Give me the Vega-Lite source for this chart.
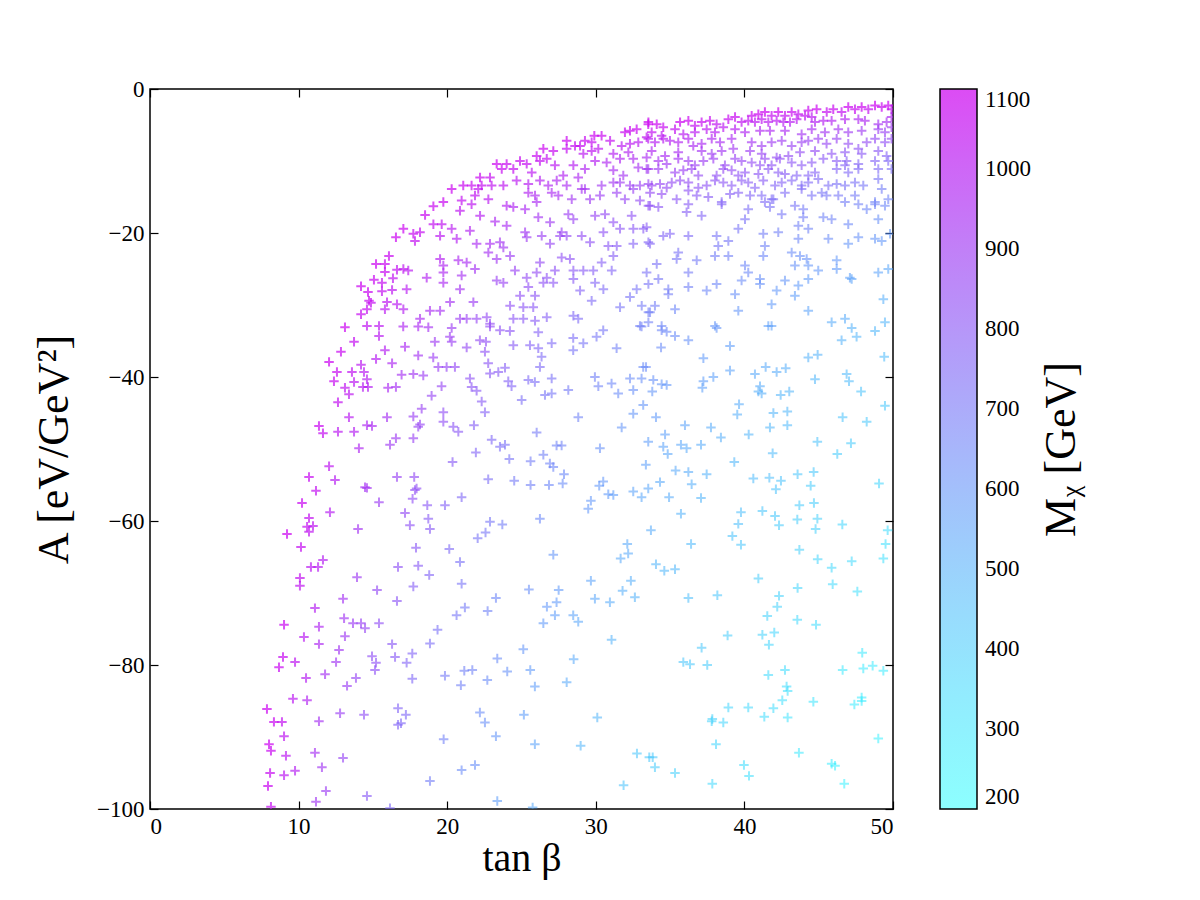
{
"$schema": "https://vega.github.io/schema/vega-lite/v6.json",
"width": 743, "height": 720,
"autosize": {"type": "none"},
"padding": {"left": 150, "top": 89, "right": 307, "bottom": 91},
"background": "white",
"config": {"view": {"stroke": "black", "strokeWidth": 1.5}, "font": "Liberation Serif"},
"resolve": {"axis": {"x": "independent", "y": "independent"}},
"layer": [
{
"data": {"values": [
{"t":16.55,"A":-20.6,"M":1090},{"t":16.08,"A":-23.2,"M":1080},{"t":15.21,"A":-24.3,"M":1090},{"t":15.81,"A":-24.3,"M":1080},{"t":15.81,"A":-25.4,"M":1070},{"t":16.62,"A":-25.1,"M":1050},{"t":15.07,"A":-26.5,"M":1080},{"t":15.61,"A":-26.9,"M":1060},{"t":16.35,"A":-26.3,"M":1040},{"t":14.2,"A":-27.4,"M":1090},{"t":14.67,"A":-28.2,"M":1080},{"t":15.61,"A":-28.1,"M":1050},{"t":16.29,"A":-27.9,"M":1030},{"t":14.74,"A":-29.4,"M":1070},{"t":14.87,"A":-29.7,"M":1060},{"t":15.95,"A":-29.6,"M":1030},{"t":16.62,"A":-29.9,"M":1010},{"t":15.81,"A":-30.6,"M":1020},{"t":14.6,"A":-30.6,"M":1060},{"t":14.2,"A":-31.3,"M":1070},{"t":13.12,"A":-33.1,"M":1090},{"t":14.6,"A":-32.9,"M":1040},{"t":15.41,"A":-32.9,"M":1020},
{"t":15.41,"A":-34.3,"M":1010},{"t":13.73,"A":-35.1,"M":1060},{"t":12.85,"A":-36.5,"M":1080},{"t":15.81,"A":-36.3,"M":990},{"t":15.21,"A":-37.5,"M":1000},{"t":12.05,"A":-37.9,"M":1090},{"t":14.2,"A":-38.3,"M":1020},{"t":16.29,"A":-38.1,"M":960},{"t":12.58,"A":-39.3,"M":1070},{"t":13.59,"A":-39.3,"M":1040},{"t":14.4,"A":-39.3,"M":1010},{"t":12.38,"A":-40.6,"M":1070},{"t":13.73,"A":-40.7,"M":1020},{"t":14.6,"A":-40.3,"M":1000},{"t":14.33,"A":-41.4,"M":1000},{"t":14.67,"A":-41.4,"M":990},{"t":13.12,"A":-41.5,"M":1040},{"t":13.39,"A":-42.4,"M":1030},{"t":16.02,"A":-41.5,"M":950},{"t":16.55,"A":-41.4,"M":930},{"t":12.65,"A":-43.5,"M":1050},{"t":13.39,"A":-45.6,"M":1010},{"t":15.95,"A":-45.6,"M":930},{"t":11.37,"A":-46.8,"M":1080},{"t":11.64,"A":-47.8,"M":1060},{"t":12.65,"A":-47.6,"M":1020},{"t":13.73,"A":-47.6,"M":990},{"t":14.6,"A":-46.7,"M":960},{"t":14.94,"A":-46.8,"M":950},{"t":16.15,"A":-49.4,"M":900},{"t":16.55,"A":-48.5,"M":900},{"t":14.06,"A":-49.9,"M":970},{"t":12.05,"A":-52.4,"M":1030},{"t":10.7,"A":-53.9,"M":1070},{"t":12.45,"A":-54.3,"M":1000},{"t":11.17,"A":-55.8,"M":1050},{"t":14.47,"A":-55.3,"M":930},{"t":14.6,"A":-55.4,"M":920},{"t":10.23,"A":-57.5,"M":1080},{"t":15.41,"A":-57.4,"M":890},{"t":16.62,"A":-53.9,"M":870},{"t":12.11,"A":-58.8,"M":1000},{"t":10.7,"A":-59.6,"M":1050},{"t":10.57,"A":-60.8,"M":1050},{"t":10.97,"A":-60.7,"M":1030},{"t":10.7,"A":-61.5,"M":1040},{"t":9.22,"A":-61.8,"M":1090},{"t":14.0,"A":-61.1,"M":920},{"t":10.16,"A":-63.6,"M":1060},{"t":11.64,"A":-65.4,"M":990},{"t":10.83,"A":-66.4,"M":1020},{"t":11.31,"A":-66.4,"M":1000},{"t":16.69,"A":-66.4,"M":820},
{"t":10.09,"A":-67.9,"M":1050},{"t":10.09,"A":-69.0,"M":1040},{"t":13.93,"A":-67.8,"M":900},{"t":15.28,"A":-69.6,"M":850},{"t":12.99,"A":-70.8,"M":920},{"t":16.62,"A":-71.1,"M":810},{"t":11.1,"A":-72.1,"M":990},{"t":9.02,"A":-74.4,"M":1080},{"t":13.06,"A":-73.5,"M":910},{"t":13.66,"A":-74.2,"M":890},{"t":14.2,"A":-74.2,"M":870},{"t":14.47,"A":-74.9,"M":860},{"t":15.41,"A":-74.2,"M":830},{"t":11.37,"A":-74.7,"M":970},{"t":10.36,"A":-76.1,"M":1010},{"t":13.12,"A":-76.0,"M":900},{"t":11.37,"A":-77.1,"M":960},{"t":16.29,"A":-77.1,"M":800},{"t":12.72,"A":-77.9,"M":910},{"t":8.95,"A":-78.9,"M":1070},{"t":8.68,"A":-80.3,"M":1080},{"t":9.76,"A":-79.6,"M":1030},{"t":14.94,"A":-78.8,"M":830},{"t":15.21,"A":-79.7,"M":820},{"t":15.14,"A":-80.7,"M":820},{"t":16.49,"A":-78.9,"M":790},{"t":12.52,"A":-79.6,"M":910},{"t":10.5,"A":-81.8,"M":990},{"t":11.78,"A":-81.3,"M":930},{"t":13.86,"A":-81.8,"M":860},{"t":13.26,"A":-82.9,"M":880},{"t":9.62,"A":-84.7,"M":1020},{"t":10.57,"A":-84.9,"M":980},{"t":7.87,"A":-86.1,"M":1090},{"t":8.34,"A":-87.9,"M":1080},{"t":8.88,"A":-87.9,"M":1050},{"t":11.37,"A":-87.8,"M":930},{"t":12.79,"A":-86.7,"M":880},{"t":14.4,"A":-86.9,"M":830},{"t":16.69,"A":-86.0,"M":760},{"t":16.69,"A":-88.3,"M":760},{"t":9.02,"A":-89.9,"M":1030},{"t":8.01,"A":-91.0,"M":1090},{"t":8.14,"A":-91.9,"M":1080},{"t":9.15,"A":-92.6,"M":1020},{"t":11.1,"A":-92.2,"M":930},{"t":12.99,"A":-92.9,"M":860},{"t":8.08,"A":-95.0,"M":1070},{"t":9.02,"A":-95.3,"M":1020},{"t":9.76,"A":-94.7,"M":990},{"t":11.57,"A":-94.2,"M":910},{"t":7.94,"A":-96.8,"M":1080},{"t":11.84,"A":-97.5,"M":890},{"t":14.6,"A":-98.2,"M":790},{"t":8.14,"A":-99.7,"M":1060},{"t":11.17,"A":-99.0,"M":910},{"t":16.15,"A":-99.9,"M":740},
{"t":32.3,"A":-5.8,"M":1080},{"t":32.75,"A":-5.6,"M":1080},{"t":31.96,"A":-6.0,"M":1080},{"t":33.42,"A":-6.7,"M":1030},{"t":33.54,"A":-4.6,"M":1090},{"t":29.9,"A":-6.5,"M":1090},{"t":30.39,"A":-6.5,"M":1080},{"t":30.96,"A":-7.2,"M":1050},{"t":29.72,"A":-7.4,"M":1060},{"t":29.27,"A":-7.2,"M":1070},{"t":28.04,"A":-7.2,"M":1090},{"t":28.6,"A":-7.9,"M":1060},{"t":28.94,"A":-7.9,"M":1060},{"t":31.74,"A":-7.9,"M":1020},{"t":32.3,"A":-7.6,"M":1020},{"t":32.86,"A":-7.4,"M":1010},{"t":26.47,"A":-8.3,"M":1090},{"t":27.14,"A":-8.6,"M":1070},{"t":26.02,"A":-9.3,"M":1070},{"t":28.04,"A":-8.3,"M":1060},{"t":29.16,"A":-9.0,"M":1020},{"t":29.72,"A":-8.6,"M":1030},{"t":30.17,"A":-8.3,"M":1030},{"t":31.18,"A":-9.0,"M":990},{"t":31.63,"A":-9.7,"M":970},{"t":32.19,"A":-8.8,"M":980},{"t":32.52,"A":-9.7,"M":960},{"t":33.42,"A":-9.5,"M":950},{"t":23.33,"A":-10.4,"M":1090},{"t":24.0,"A":-10.4,"M":1080},{"t":23.67,"A":-11.1,"M":1070},{"t":24.45,"A":-11.1,"M":1060},{"t":24.9,"A":-10.0,"M":1070},{"t":25.35,"A":-10.4,"M":1060},{"t":25.69,"A":-11.6,"M":1020},{"t":26.24,"A":-10.0,"M":1050},{"t":26.7,"A":-9.7,"M":1050},{"t":27.25,"A":-10.6,"M":1020},{"t":28.49,"A":-10.6,"M":1000},{"t":29.27,"A":-11.1,"M":970},{"t":29.95,"A":-10.0,"M":990},{"t":30.73,"A":-10.2,"M":970},{"t":31.18,"A":-11.3,"M":940},{"t":31.85,"A":-12.0,"M":920},{"t":32.86,"A":-10.9,"M":930},{"t":33.42,"A":-11.1,"M":910},{"t":27.81,"A":-12.0,"M":980},{"t":22.21,"A":-12.3,"M":1080},{"t":22.88,"A":-12.3,"M":1060},{"t":22.32,"A":-13.4,"M":1060},{"t":22.99,"A":-13.4,"M":1040},{"t":23.78,"A":-13.4,"M":1030},{"t":24.67,"A":-12.7,"M":1020},{"t":25.46,"A":-13.2,"M":1000},{"t":26.24,"A":-12.7,"M":990},{"t":26.8,"A":-13.4,"M":970},{"t":27.37,"A":-12.7,"M":970},{"t":28.04,"A":-13.4,"M":950},{"t":28.82,"A":-12.3,"M":960},{"t":29.27,"A":-13.9,"M":920},{"t":30.39,"A":-13.4,"M":910},{"t":31.18,"A":-13.0,"M":910},{"t":31.63,"A":-13.0,"M":900},{"t":32.3,"A":-13.4,"M":890},{"t":32.97,"A":-13.4,"M":880},{"t":33.54,"A":-13.2,"M":870},{"t":20.3,"A":-13.9,"M":1090},{"t":21.08,"A":-13.4,"M":1080},{"t":21.64,"A":-13.4,"M":1070},{"t":22.09,"A":-13.9,"M":1050},{"t":22.77,"A":-15.3,"M":1020},{"t":21.87,"A":-14.8,"M":1040},{"t":20.97,"A":-15.5,"M":1050},{"t":19.74,"A":-15.7,"M":1080},{"t":19.07,"A":-16.3,"M":1080},{"t":20.86,"A":-16.9,"M":1030},{"t":21.64,"A":-16.0,"M":1030},{"t":24.0,"A":-16.2,"M":980},{"t":24.45,"A":-16.4,"M":970},{"t":25.24,"A":-16.7,"M":950},{"t":25.46,"A":-14.4,"M":980},{"t":25.91,"A":-14.8,"M":960},{"t":26.02,"A":-15.7,"M":950},{"t":27.03,"A":-14.4,"M":950},{"t":27.48,"A":-14.8,"M":940},{"t":28.38,"A":-15.3,"M":910},{"t":29.05,"A":-13.9,"M":930},{"t":29.61,"A":-15.3,"M":900},{"t":30.28,"A":-14.8,"M":890},{"t":31.41,"A":-14.4,"M":880},{"t":31.96,"A":-15.3,"M":860},{"t":32.52,"A":-13.9,"M":870},{"t":32.97,"A":-15.5,"M":840},{"t":33.54,"A":-16.2,"M":820},{"t":18.51,"A":-17.5,"M":1080},{"t":19.07,"A":-18.8,"M":1050},{"t":19.63,"A":-18.8,"M":1040},{"t":20.3,"A":-19.4,"M":1010},{"t":21.53,"A":-19.7,"M":980},{"t":22.21,"A":-17.6,"M":1000},{"t":23.22,"A":-18.4,"M":960},{"t":24.0,"A":-19.0,"M":940},{"t":25.24,"A":-19.9,"M":910},{"t":26.13,"A":-17.8,"M":920},{"t":26.92,"A":-18.5,"M":900},{"t":27.7,"A":-19.9,"M":870},{"t":28.15,"A":-17.4,"M":890},{"t":28.49,"A":-18.1,"M":870},{"t":29.95,"A":-17.6,"M":860},{"t":30.62,"A":-17.4,"M":850},{"t":31.18,"A":-18.5,"M":830},{"t":31.63,"A":-19.4,"M":810},{"t":32.41,"A":-17.6,"M":820},{"t":32.52,"A":-19.4,"M":800},{"t":33.2,"A":-19.4,"M":790},{"t":17.05,"A":-19.4,"M":1090},{"t":17.72,"A":-20.1,"M":1070},{"t":18.17,"A":-19.9,"M":1060},{"t":17.83,"A":-21.1,"M":1050},{"t":19.52,"A":-20.4,"M":1020},{"t":20.64,"A":-20.8,"M":990},{"t":21.98,"A":-21.5,"M":950},{"t":22.88,"A":-21.5,"M":940},{"t":23.55,"A":-21.3,"M":920},{"t":23.78,"A":-22.0,"M":910},{"t":25.35,"A":-20.6,"M":900},{"t":26.36,"A":-20.4,"M":880},{"t":26.92,"A":-21.5,"M":860},{"t":28.04,"A":-20.4,"M":850},{"t":27.59,"A":-20.4,"M":860},{"t":29.05,"A":-20.4,"M":840},{"t":29.61,"A":-21.3,"M":820},{"t":30.51,"A":-19.9,"M":820},{"t":30.84,"A":-21.8,"M":800},{"t":31.41,"A":-21.8,"M":790},{"t":32.52,"A":-21.5,"M":770},{"t":33.54,"A":-21.3,"M":760},{"t":17.05,"A":-25.0,"M":1040},{"t":17.38,"A":-25.2,"M":1020},{"t":18.62,"A":-26.2,"M":980},{"t":19.52,"A":-23.6,"M":990},{"t":19.74,"A":-24.5,"M":970},{"t":20.75,"A":-23.8,"M":960},{"t":21.31,"A":-24.1,"M":940},{"t":19.74,"A":-25.5,"M":960},{"t":20.97,"A":-25.9,"M":930},{"t":21.87,"A":-25.0,"M":920},{"t":22.77,"A":-22.7,"M":930},{"t":23.33,"A":-23.6,"M":910},{"t":24.23,"A":-23.2,"M":890},{"t":24.56,"A":-25.2,"M":870},{"t":25.35,"A":-26.2,"M":840},{"t":26.02,"A":-25.5,"M":840},{"t":26.24,"A":-24.1,"M":850},{"t":26.7,"A":-26.2,"M":820},{"t":27.25,"A":-25.2,"M":820},{"t":27.7,"A":-23.4,"M":830},{"t":28.26,"A":-23.6,"M":820},{"t":28.49,"A":-25.2,"M":800},{"t":29.16,"A":-25.2,"M":790},{"t":29.83,"A":-25.2,"M":780},{"t":30.39,"A":-24.1,"M":780},{"t":31.18,"A":-23.2,"M":780},{"t":31.07,"A":-25.2,"M":760},{"t":33.42,"A":-25.5,"M":720},{"t":17.27,"A":-27.8,"M":1010},{"t":19.74,"A":-26.9,"M":950},{"t":20.86,"A":-27.8,"M":920},{"t":21.76,"A":-29.6,"M":890},{"t":23.33,"A":-26.6,"M":880},{"t":23.78,"A":-26.9,"M":870},{"t":24.9,"A":-28.7,"M":830},{"t":25.46,"A":-27.5,"M":830},{"t":25.91,"A":-28.7,"M":810},{"t":26.47,"A":-26.9,"M":820},{"t":27.14,"A":-26.9,"M":810},{"t":28.49,"A":-26.4,"M":790},{"t":28.94,"A":-28.0,"M":770},{"t":29.95,"A":-26.9,"M":760},{"t":30.51,"A":-27.8,"M":740},{"t":29.72,"A":-29.4,"M":740},{"t":32.3,"A":-28.9,"M":710},{"t":32.75,"A":-27.8,"M":710},{"t":33.54,"A":-27.1,"M":710},{"t":17.05,"A":-30.6,"M":990},{"t":18.17,"A":-31.9,"M":950},{"t":18.84,"A":-30.8,"M":940},{"t":19.52,"A":-30.8,"M":930},{"t":20.19,"A":-29.6,"M":920},{"t":20.86,"A":-31.9,"M":890},{"t":21.31,"A":-31.9,"M":880},{"t":21.98,"A":-31.9,"M":860},{"t":22.66,"A":-31.7,"M":850},{"t":22.88,"A":-32.6,"M":840},{"t":24.23,"A":-30.1,"M":830},{"t":25.12,"A":-30.3,"M":810},{"t":25.79,"A":-30.3,"M":800},{"t":24.45,"A":-31.9,"M":810},{"t":25.12,"A":-31.9,"M":800},{"t":25.91,"A":-32.2,"M":790},{"t":26.7,"A":-31.7,"M":780},{"t":28.49,"A":-31.5,"M":750},{"t":28.82,"A":-31.9,"M":740},{"t":31.63,"A":-30.3,"M":710},{"t":33.09,"A":-30.1,"M":690},{"t":33.54,"A":-31.0,"M":680},{"t":33.54,"A":-32.4,"M":670},{"t":32.97,"A":-32.9,"M":670},
{"t":44.3,"A":-3.0,"M":1080},{"t":44.86,"A":-2.8,"M":1090},{"t":45.54,"A":-3.2,"M":1060},{"t":45.98,"A":-2.8,"M":1080},{"t":46.54,"A":-3.2,"M":1050},{"t":46.99,"A":-2.5,"M":1090},{"t":47.44,"A":-2.8,"M":1070},{"t":47.89,"A":-2.5,"M":1090},{"t":48.34,"A":-2.8,"M":1060},{"t":48.79,"A":-2.3,"M":1090},{"t":49.24,"A":-2.5,"M":1080},{"t":49.68,"A":-2.3,"M":1090},{"t":49.9,"A":-2.8,"M":1050},{"t":40.49,"A":-3.7,"M":1080},{"t":40.94,"A":-3.5,"M":1090},{"t":41.38,"A":-3.2,"M":1090},{"t":41.83,"A":-3.7,"M":1060},{"t":42.28,"A":-3.2,"M":1090},{"t":42.73,"A":-3.7,"M":1050},{"t":43.18,"A":-3.2,"M":1080},{"t":43.63,"A":-3.5,"M":1060},{"t":44.08,"A":-3.7,"M":1040},{"t":44.53,"A":-3.9,"M":1020},{"t":38.92,"A":-4.2,"M":1070},{"t":39.37,"A":-3.9,"M":1080},{"t":39.81,"A":-4.6,"M":1040},{"t":40.26,"A":-4.4,"M":1040},{"t":40.71,"A":-4.6,"M":1020},{"t":41.16,"A":-4.2,"M":1040},{"t":41.61,"A":-4.6,"M":1010},{"t":42.17,"A":-4.4,"M":1020},{"t":42.62,"A":-4.6,"M":1000},{"t":43.07,"A":-4.6,"M":1000},{"t":43.52,"A":-4.2,"M":1020},{"t":44.75,"A":-4.6,"M":980},{"t":45.31,"A":-4.4,"M":990},{"t":45.87,"A":-4.4,"M":980},{"t":46.77,"A":-4.2,"M":980},{"t":47.67,"A":-4.2,"M":970},{"t":48.11,"A":-4.4,"M":960},{"t":49.01,"A":-4.9,"M":930},{"t":49.57,"A":-4.6,"M":930},{"t":49.9,"A":-3.9,"M":970},{"t":33.53,"A":-4.9,"M":1090},{"t":34.1,"A":-4.9,"M":1090},{"t":34.54,"A":-5.3,"M":1070},{"t":35.33,"A":-5.6,"M":1050},{"t":35.67,"A":-4.6,"M":1090},{"t":36.23,"A":-4.4,"M":1090},{"t":36.67,"A":-5.1,"M":1050},{"t":37.12,"A":-4.6,"M":1070},{"t":37.68,"A":-4.4,"M":1070},{"t":38.13,"A":-4.9,"M":1040},{"t":38.58,"A":-5.3,"M":1020},{"t":38.02,"A":-6.0,"M":1000},{"t":37.46,"A":-5.6,"M":1020},{"t":36.67,"A":-6.0,"M":1010},{"t":35.89,"A":-6.3,"M":1010},{"t":33.76,"A":-6.0,"M":1050},{"t":34.43,"A":-6.5,"M":1020},{"t":39.37,"A":-5.6,"M":1000},{"t":40.04,"A":-6.0,"M":970},{"t":41.05,"A":-5.8,"M":970},{"t":41.72,"A":-5.8,"M":960},{"t":42.73,"A":-5.8,"M":950},{"t":43.85,"A":-6.3,"M":920},{"t":44.53,"A":-5.6,"M":940},{"t":45.42,"A":-6.0,"M":910},{"t":46.32,"A":-5.6,"M":920},{"t":46.99,"A":-6.0,"M":900},{"t":47.89,"A":-5.8,"M":900},{"t":49.01,"A":-5.6,"M":890},{"t":49.46,"A":-6.0,"M":870},{"t":49.9,"A":-5.3,"M":900},{"t":33.53,"A":-6.9,"M":1020},{"t":33.98,"A":-7.4,"M":1000},{"t":34.54,"A":-6.9,"M":1010},{"t":34.99,"A":-7.2,"M":990},{"t":35.55,"A":-7.4,"M":980},{"t":36.23,"A":-6.9,"M":990},{"t":36.56,"A":-7.9,"M":950},{"t":37.12,"A":-7.6,"M":950},{"t":37.8,"A":-6.9,"M":970},{"t":38.36,"A":-7.4,"M":940},{"t":39.14,"A":-6.9,"M":950},{"t":39.25,"A":-8.3,"M":910},{"t":38.47,"A":-8.6,"M":910},{"t":37.8,"A":-9.0,"M":900},{"t":37.12,"A":-8.6,"M":920},{"t":35.55,"A":-8.8,"M":940},{"t":34.66,"A":-9.3,"M":940},{"t":33.76,"A":-8.6,"M":970},{"t":40.49,"A":-7.4,"M":920},{"t":40.38,"A":-8.6,"M":890},{"t":41.16,"A":-7.9,"M":900},{"t":41.83,"A":-7.4,"M":900},{"t":42.51,"A":-7.2,"M":900},{"t":43.18,"A":-7.9,"M":870},{"t":43.85,"A":-7.4,"M":880},{"t":44.3,"A":-7.2,"M":880},{"t":44.97,"A":-6.9,"M":890},{"t":45.53,"A":-7.6,"M":860},{"t":46.21,"A":-6.9,"M":870},{"t":46.99,"A":-7.6,"M":840},{"t":47.67,"A":-8.3,"M":820},{"t":48.23,"A":-7.4,"M":840},{"t":48.79,"A":-6.9,"M":850},{"t":49.46,"A":-7.4,"M":830},{"t":49.9,"A":-6.9,"M":840},{"t":49.57,"A":-9.3,"M":770},{"t":49.01,"A":-8.6,"M":800},{"t":47.89,"A":-9.0,"M":800},{"t":46.77,"A":-8.8,"M":810},{"t":45.87,"A":-9.0,"M":820},{"t":44.75,"A":-8.6,"M":840},{"t":43.74,"A":-8.8,"M":840},{"t":42.96,"A":-9.3,"M":840},{"t":42.17,"A":-9.5,"M":840},{"t":41.16,"A":-9.0,"M":870},{"t":34.21,"A":-10.0,"M":930},{"t":34.77,"A":-10.4,"M":910},{"t":35.55,"A":-9.7,"M":920},{"t":36.23,"A":-10.0,"M":900},{"t":36.67,"A":-10.6,"M":880},{"t":37.24,"A":-10.0,"M":890},{"t":37.91,"A":-9.7,"M":890},{"t":38.69,"A":-10.6,"M":860},{"t":39.37,"A":-9.7,"M":870},{"t":39.81,"A":-10.0,"M":860},{"t":40.49,"A":-10.2,"M":840},{"t":41.05,"A":-10.6,"M":830},{"t":41.38,"A":-9.7,"M":850},{"t":41.83,"A":-10.6,"M":820},{"t":42.39,"A":-9.7,"M":830},{"t":43.18,"A":-10.2,"M":810},{"t":43.85,"A":-10.6,"M":800},{"t":44.53,"A":-10.2,"M":800},{"t":45.31,"A":-9.7,"M":800},{"t":46.21,"A":-10.0,"M":790},{"t":46.77,"A":-10.6,"M":770},{"t":46.88,"A":-10.0,"M":780},{"t":47.67,"A":-10.4,"M":760},{"t":48.79,"A":-10.0,"M":760},{"t":49.68,"A":-10.0,"M":750},{"t":33.53,"A":-11.1,"M":910},{"t":34.21,"A":-11.1,"M":900},{"t":35.33,"A":-11.6,"M":880},{"t":35.89,"A":-11.3,"M":880},{"t":36.45,"A":-11.1,"M":870},{"t":36.9,"A":-12.0,"M":850},{"t":38.13,"A":-12.0,"M":830},{"t":38.58,"A":-11.1,"M":850},{"t":39.14,"A":-11.3,"M":840},{"t":39.59,"A":-12.0,"M":820},{"t":40.04,"A":-11.6,"M":820},{"t":40.94,"A":-11.8,"M":810},{"t":41.61,"A":-11.1,"M":810},{"t":42.28,"A":-11.6,"M":790},{"t":42.73,"A":-11.8,"M":790},{"t":43.52,"A":-12.0,"M":770},{"t":44.3,"A":-12.0,"M":770},{"t":44.75,"A":-11.6,"M":770},{"t":46.21,"A":-11.1,"M":760},{"t":46.99,"A":-11.6,"M":750},{"t":47.67,"A":-11.1,"M":750},{"t":49.01,"A":-11.1,"M":740},{"t":49.9,"A":-11.1,"M":730},{"t":33.76,"A":-13.4,"M":870},{"t":34.32,"A":-13.2,"M":860},{"t":34.77,"A":-13.7,"M":850},{"t":35.11,"A":-13.0,"M":850},{"t":35.67,"A":-12.7,"M":850},{"t":36.23,"A":-13.0,"M":840},{"t":36.9,"A":-13.7,"M":820},{"t":37.46,"A":-13.4,"M":820},{"t":38.02,"A":-12.7,"M":820},{"t":38.58,"A":-13.0,"M":810},{"t":39.14,"A":-13.4,"M":800},{"t":39.81,"A":-12.7,"M":800},{"t":40.26,"A":-13.0,"M":790},{"t":40.71,"A":-13.7,"M":770},{"t":41.27,"A":-12.7,"M":790},{"t":42.06,"A":-13.4,"M":760},{"t":42.51,"A":-13.0,"M":770},{"t":43.18,"A":-12.7,"M":760},{"t":43.85,"A":-13.4,"M":740},{"t":44.3,"A":-13.0,"M":750},{"t":44.97,"A":-12.5,"M":750},{"t":45.65,"A":-13.4,"M":730},{"t":46.21,"A":-13.2,"M":720},{"t":46.77,"A":-13.4,"M":720},{"t":47.44,"A":-13.0,"M":720},{"t":48.0,"A":-13.4,"M":700},{"t":49.01,"A":-12.5,"M":710},{"t":33.65,"A":-14.4,"M":850},{"t":34.43,"A":-14.6,"M":840},{"t":35.44,"A":-15.3,"M":810},{"t":36.23,"A":-14.1,"M":820},{"t":36.79,"A":-14.8,"M":800},{"t":37.57,"A":-15.0,"M":790},{"t":38.47,"A":-15.7,"M":770},{"t":39.03,"A":-14.6,"M":780},{"t":39.59,"A":-14.4,"M":780},{"t":40.38,"A":-14.8,"M":760},{"t":41.16,"A":-14.8,"M":750},{"t":41.83,"A":-15.3,"M":740},{"t":42.73,"A":-14.4,"M":740},{"t":43.85,"A":-13.9,"M":740},{"t":44.53,"A":-14.8,"M":720},{"t":45.2,"A":-14.4,"M":710},{"t":45.53,"A":-14.8,"M":700},{"t":46.32,"A":-14.8,"M":700},{"t":46.77,"A":-15.7,"M":680},{"t":47.44,"A":-14.8,"M":690},{"t":48.79,"A":-15.7,"M":660},{"t":49.24,"A":-13.9,"M":680},{"t":49.68,"A":-15.3,"M":660},{"t":33.65,"A":-16.2,"M":820},{"t":34.21,"A":-16.4,"M":810},{"t":36.23,"A":-16.0,"M":790},{"t":36.11,"A":-17.1,"M":780},{"t":37.12,"A":-17.6,"M":760},{"t":38.47,"A":-16.0,"M":760},{"t":40.26,"A":-16.7,"M":730},{"t":40.04,"A":-18.1,"M":720},{"t":39.59,"A":-19.4,"M":710},{"t":41.38,"A":-15.7,"M":740},{"t":41.72,"A":-16.4,"M":720},{"t":41.95,"A":-15.3,"M":730},{"t":42.51,"A":-17.4,"M":700},{"t":43.4,"A":-16.2,"M":710},{"t":43.96,"A":-16.7,"M":690},{"t":43.96,"A":-17.8,"M":680},{"t":45.31,"A":-17.8,"M":660},{"t":45.87,"A":-18.1,"M":660},{"t":46.99,"A":-18.8,"M":640},{"t":47.67,"A":-16.0,"M":670},{"t":48.23,"A":-16.7,"M":650},{"t":48.79,"A":-16.0,"M":660},{"t":49.01,"A":-18.1,"M":620},{"t":49.46,"A":-16.2,"M":650},{"t":33.42,"A":-19.2,"M":790},{"t":33.65,"A":-21.5,"M":760},{"t":34.54,"A":-20.4,"M":760},{"t":34.99,"A":-20.1,"M":760},{"t":36.23,"A":-20.4,"M":740},{"t":38.13,"A":-20.4,"M":710},{"t":38.24,"A":-21.8,"M":700},{"t":38.92,"A":-21.1,"M":700},{"t":41.27,"A":-20.1,"M":680},{"t":41.38,"A":-21.8,"M":660},{"t":42.28,"A":-19.9,"M":670},{"t":43.63,"A":-19.0,"M":670},{"t":44.3,"A":-19.4,"M":660},{"t":43.63,"A":-20.8,"M":650},{"t":45.65,"A":-20.8,"M":630},{"t":46.99,"A":-21.5,"M":600},{"t":47.67,"A":-20.6,"M":610},{"t":48.79,"A":-20.8,"M":600},{"t":49.24,"A":-21.1,"M":590},{"t":49.8,"A":-20.1,"M":590},{"t":35.55,"A":-22.7,"M":720},{"t":35.44,"A":-23.6,"M":710},{"t":36.79,"A":-23.8,"M":690},{"t":36.23,"A":-25.5,"M":690},{"t":38.02,"A":-23.2,"M":680},{"t":38.92,"A":-23.2,"M":670},{"t":40.04,"A":-24.5,"M":650},{"t":41.27,"A":-23.2,"M":650},{"t":43.18,"A":-22.7,"M":630},{"t":43.74,"A":-23.2,"M":620},{"t":44.19,"A":-23.6,"M":610},{"t":44.3,"A":-24.5,"M":600},{"t":43.4,"A":-24.5,"M":610},{"t":44.97,"A":-25.2,"M":590},{"t":46.21,"A":-23.8,"M":590},{"t":46.21,"A":-25.0,"M":580},{"t":49.01,"A":-25.5,"M":550},{"t":49.68,"A":-25.0,"M":540},{"t":34.1,"A":-24.3,"M":720},{"t":40.26,"A":-25.5,"M":640},{"t":39.81,"A":-26.6,"M":630},{"t":41.05,"A":-26.4,"M":620},{"t":34.21,"A":-26.4,"M":700},{"t":34.88,"A":-27.8,"M":680},{"t":34.88,"A":-28.5,"M":680},{"t":33.98,"A":-30.1,"M":680},{"t":33.65,"A":-31.0,"M":670},{"t":35.33,"A":-30.6,"M":650},{"t":36.23,"A":-27.5,"M":670},{"t":37.46,"A":-28.0,"M":650},{"t":38.13,"A":-27.1,"M":650},{"t":39.37,"A":-28.5,"M":620},{"t":39.59,"A":-30.8,"M":600},{"t":41.05,"A":-27.1,"M":610},{"t":42.17,"A":-28.0,"M":590},{"t":42.73,"A":-26.6,"M":600},{"t":43.63,"A":-27.3,"M":580},{"t":43.4,"A":-28.7,"M":570},{"t":41.83,"A":-29.9,"M":580},{"t":44.3,"A":-26.4,"M":580},{"t":47.1,"A":-26.2,"M":560},{"t":47.22,"A":-26.4,"M":550},{"t":49.35,"A":-29.2,"M":510},{"t":34.43,"A":-32.9,"M":650},{"t":38.02,"A":-32.9,"M":600},{"t":41.61,"A":-32.9,"M":560},{"t":44.3,"A":-30.8,"M":550},{"t":45.87,"A":-32.4,"M":520},{"t":46.77,"A":-31.9,"M":520},{"t":49.46,"A":-32.4,"M":490},
{"t":17.04,"A":-33.0,"M":970},{"t":18.05,"A":-33.0,"M":950},{"t":18.73,"A":-33.1,"M":930},{"t":20.3,"A":-33.2,"M":890},{"t":22.88,"A":-33.0,"M":840},{"t":23.55,"A":-33.5,"M":820},{"t":24.22,"A":-33.6,"M":810},{"t":26.13,"A":-33.8,"M":770},{"t":30.5,"A":-33.5,"M":700},{"t":33.08,"A":-33.0,"M":670},{"t":17.16,"A":-35.8,"M":950},{"t":18.05,"A":-37.0,"M":920},{"t":19.06,"A":-37.3,"M":890},{"t":19.17,"A":-35.1,"M":900},{"t":20.18,"A":-34.4,"M":890},{"t":20.3,"A":-35.1,"M":880},{"t":21.31,"A":-35.9,"M":850},{"t":22.2,"A":-34.9,"M":840},{"t":22.61,"A":-35.1,"M":830},{"t":22.54,"A":-36.5,"M":820},{"t":24.45,"A":-35.6,"M":790},{"t":25.57,"A":-35.6,"M":770},{"t":26.13,"A":-36.0,"M":760},{"t":26.35,"A":-37.2,"M":740},{"t":26.24,"A":-38.6,"M":740},{"t":27.03,"A":-35.3,"M":740},{"t":28.48,"A":-34.6,"M":730},{"t":28.48,"A":-36.3,"M":710},{"t":29.16,"A":-35.3,"M":710},{"t":30.05,"A":-34.4,"M":700},{"t":31.4,"A":-36.0,"M":670},{"t":16.93,"A":-39.7,"M":930},{"t":17.72,"A":-39.6,"M":910},{"t":18.39,"A":-39.8,"M":890},{"t":19.4,"A":-38.6,"M":880},{"t":19.96,"A":-38.6,"M":860},{"t":20.52,"A":-38.6,"M":850},{"t":22.76,"A":-38.1,"M":810},{"t":22.88,"A":-39.5,"M":800},{"t":23.44,"A":-39.3,"M":790},{"t":23.89,"A":-38.7,"M":780},{"t":24.11,"A":-40.6,"M":770},{"t":24.33,"A":-41.3,"M":760},{"t":25.46,"A":-40.4,"M":740},{"t":25.9,"A":-40.7,"M":730},{"t":27.03,"A":-40.2,"M":720},{"t":26.58,"A":-42.5,"M":710},{"t":27.03,"A":-42.3,"M":700},{"t":28.15,"A":-41.8,"M":690},{"t":29.94,"A":-40.0,"M":670},{"t":30.17,"A":-41.3,"M":660},{"t":31.06,"A":-40.9,"M":650},{"t":31.51,"A":-42.3,"M":630},{"t":32.3,"A":-40.2,"M":630},{"t":32.52,"A":-41.8,"M":620},{"t":33.08,"A":-40.2,"M":620},{"t":33.19,"A":-38.6,"M":630},{"t":19.62,"A":-41.3,"M":860},{"t":18.95,"A":-42.6,"M":860},{"t":21.53,"A":-40.2,"M":820},{"t":21.64,"A":-41.4,"M":810},{"t":21.98,"A":-41.9,"M":800},{"t":22.32,"A":-43.4,"M":790},{"t":22.54,"A":-44.9,"M":770},{"t":25.01,"A":-43.2,"M":730},{"t":28.82,"A":-45.6,"M":660},{"t":31.74,"A":-47.0,"M":600},{"t":32.52,"A":-45.1,"M":600},{"t":33.19,"A":-43.9,"M":600},{"t":17.72,"A":-45.5,"M":880},{"t":18.28,"A":-44.4,"M":870},{"t":19.74,"A":-44.9,"M":830},{"t":19.74,"A":-46.2,"M":830},{"t":18.05,"A":-46.9,"M":860},{"t":18.17,"A":-46.6,"M":860},{"t":17.72,"A":-48.5,"M":870},{"t":20.41,"A":-46.9,"M":810},{"t":20.75,"A":-47.6,"M":800},{"t":21.8,"A":-46.7,"M":780},{"t":22.99,"A":-48.7,"M":750},{"t":23.55,"A":-49.7,"M":730},{"t":23.89,"A":-49.4,"M":720},{"t":26.02,"A":-47.7,"M":690},{"t":27.36,"A":-49.5,"M":660},{"t":27.7,"A":-49.5,"M":660},{"t":30.28,"A":-49.9,"M":610},{"t":33.53,"A":-49.0,"M":570},{"t":21.93,"A":-50.5,"M":760},{"t":20.36,"A":-51.8,"M":790},{"t":24.18,"A":-51.4,"M":710},{"t":25.61,"A":-51.7,"M":680},{"t":26.47,"A":-50.8,"M":670},{"t":26.91,"A":-52.0,"M":660},{"t":27.14,"A":-52.5,"M":650},{"t":27.86,"A":-53.5,"M":640},{"t":27.77,"A":-54.8,"M":630},{"t":33.37,"A":-52.2,"M":560},{"t":17.78,"A":-53.9,"M":840},{"t":17.83,"A":-55.7,"M":830},{"t":17.94,"A":-55.5,"M":830},{"t":17.67,"A":-56.9,"M":830},{"t":18.66,"A":-57.8,"M":800},{"t":19.85,"A":-57.8,"M":770},{"t":20.97,"A":-56.7,"M":750},{"t":22.76,"A":-54.2,"M":730},{"t":24.51,"A":-54.4,"M":690},{"t":25.61,"A":-55.0,"M":670},{"t":26.85,"A":-55.0,"M":650},{"t":30.23,"A":-55.1,"M":590},{"t":30.5,"A":-54.5,"M":590},{"t":30.84,"A":-56.3,"M":580},{"t":31.18,"A":-56.4,"M":570},{"t":32.52,"A":-55.9,"M":550},{"t":33.08,"A":-56.7,"M":540},{"t":33.53,"A":-55.5,"M":540},{"t":17.16,"A":-58.9,"M":840},{"t":17.49,"A":-60.6,"M":820},{"t":18.73,"A":-59.7,"M":790},{"t":18.84,"A":-61.1,"M":790},{"t":22.88,"A":-60.1,"M":700},{"t":23.71,"A":-60.5,"M":680},{"t":22.58,"A":-61.6,"M":700},{"t":22.05,"A":-62.4,"M":710},{"t":26.24,"A":-59.7,"M":640},{"t":29.67,"A":-57.2,"M":590},{"t":29.49,"A":-58.3,"M":590},{"t":17.9,"A":-63.7,"M":800},{"t":20.14,"A":-63.9,"M":740},{"t":20.86,"A":-65.7,"M":720},{"t":18.05,"A":-66.2,"M":790},{"t":27.14,"A":-64.7,"M":600},{"t":32.12,"A":-63.2,"M":530},{"t":32.18,"A":-64.5,"M":530},{"t":31.67,"A":-65.2,"M":530},
{"t":34.43,"A":-33.5,"M":650},{"t":34.77,"A":-33.7,"M":640},{"t":35.33,"A":-34.3,"M":630},{"t":36.23,"A":-34.9,"M":610},{"t":38.13,"A":-33.2,"M":600},{"t":41.83,"A":-32.9,"M":560},{"t":47.22,"A":-33.2,"M":500},{"t":47.55,"A":-34.4,"M":490},{"t":46.54,"A":-34.9,"M":500},{"t":48.79,"A":-33.6,"M":480},{"t":34.39,"A":-35.9,"M":630},{"t":37.24,"A":-37.4,"M":580},{"t":39.03,"A":-35.7,"M":570},{"t":33.38,"A":-38.6,"M":630},{"t":33.87,"A":-40.4,"M":610},{"t":34.43,"A":-41.0,"M":600},{"t":34.77,"A":-41.1,"M":590},{"t":33.8,"A":-42.0,"M":600},{"t":37.24,"A":-40.6,"M":570},{"t":37.17,"A":-41.5,"M":560},{"t":37.91,"A":-40.0,"M":560},{"t":39.03,"A":-39.1,"M":550},{"t":40.71,"A":-39.6,"M":530},{"t":41.05,"A":-41.3,"M":520},{"t":40.94,"A":-42.0,"M":510},{"t":41.16,"A":-42.3,"M":510},{"t":41.43,"A":-38.6,"M":530},{"t":42.17,"A":-39.3,"M":520},{"t":42.78,"A":-38.8,"M":510},{"t":42.44,"A":-42.5,"M":490},{"t":43.02,"A":-42.0,"M":490},{"t":44.3,"A":-37.3,"M":500},{"t":44.93,"A":-36.9,"M":500},{"t":44.75,"A":-40.3,"M":480},{"t":46.88,"A":-39.6,"M":470},{"t":47.04,"A":-40.6,"M":460},{"t":47.85,"A":-42.0,"M":440},{"t":49.41,"A":-37.2,"M":460},{"t":49.46,"A":-44.0,"M":420},{"t":34.05,"A":-45.6,"M":580},{"t":36.0,"A":-46.7,"M":550},{"t":34.66,"A":-48.0,"M":560},{"t":34.54,"A":-49.7,"M":550},{"t":34.84,"A":-50.7,"M":540},{"t":35.73,"A":-49.4,"M":540},{"t":36.11,"A":-49.9,"M":530},{"t":37.08,"A":-49.4,"M":520},{"t":37.75,"A":-47.0,"M":520},{"t":38.42,"A":-48.4,"M":510},{"t":39.64,"A":-43.8,"M":520},{"t":39.52,"A":-45.2,"M":510},{"t":40.29,"A":-48.0,"M":490},{"t":41.95,"A":-45.0,"M":490},{"t":42.89,"A":-44.8,"M":480},{"t":41.72,"A":-47.0,"M":480},{"t":42.89,"A":-46.7,"M":470},{"t":44.91,"A":-49.0,"M":440},{"t":46.61,"A":-45.6,"M":440},{"t":48.23,"A":-46.2,"M":420},{"t":47.17,"A":-49.2,"M":410},{"t":46.25,"A":-50.7,"M":410},{"t":39.32,"A":-51.8,"M":480},{"t":41.9,"A":-50.6,"M":460},{"t":35.37,"A":-53.0,"M":530},{"t":36.23,"A":-53.2,"M":520},{"t":37.46,"A":-53.5,"M":500},{"t":36.45,"A":-54.9,"M":510},{"t":34.32,"A":-54.6,"M":530},{"t":34.93,"A":-56.7,"M":520},{"t":37.08,"A":-56.8,"M":490},{"t":40.6,"A":-54.1,"M":460},{"t":41.68,"A":-54.0,"M":450},{"t":42.46,"A":-54.4,"M":440},{"t":42.12,"A":-55.6,"M":440},{"t":43.58,"A":-53.5,"M":430},{"t":44.66,"A":-53.2,"M":420},{"t":44.46,"A":-55.1,"M":410},{"t":49.06,"A":-54.8,"M":370},{"t":35.73,"A":-59.0,"M":500},{"t":33.71,"A":-61.3,"M":520},{"t":36.41,"A":-63.2,"M":470},{"t":39.77,"A":-58.8,"M":450},{"t":39.59,"A":-60.4,"M":450},{"t":39.19,"A":-62.1,"M":440},{"t":39.77,"A":-63.3,"M":430},{"t":41.21,"A":-58.6,"M":430},{"t":42.06,"A":-59.3,"M":420},{"t":42.33,"A":-60.6,"M":410},{"t":43.7,"A":-57.8,"M":410},{"t":44.68,"A":-57.5,"M":400},{"t":43.56,"A":-59.8,"M":400},{"t":44.91,"A":-59.7,"M":390},{"t":44.79,"A":-61.1,"M":390},{"t":46.59,"A":-60.5,"M":370},{"t":43.7,"A":-64.0,"M":390},{"t":44.93,"A":-65.3,"M":370},{"t":45.87,"A":-66.5,"M":360},{"t":47.22,"A":-65.6,"M":350},{"t":49.35,"A":-65.2,"M":330},{"t":49.5,"A":-63.2,"M":330},{"t":49.64,"A":-61.3,"M":340},{"t":34.05,"A":-66.0,"M":490},{"t":35.33,"A":-66.7,"M":480},
{"t":18.79,"A":-67.5,"M":760},{"t":17.72,"A":-69.1,"M":780},{"t":20.97,"A":-68.7,"M":710},{"t":23.28,"A":-70.7,"M":650},{"t":21.19,"A":-72.0,"M":690},{"t":20.63,"A":-73.1,"M":700},{"t":22.72,"A":-72.5,"M":660},{"t":25.5,"A":-69.5,"M":620},{"t":27.5,"A":-69.6,"M":580},{"t":27.36,"A":-71.3,"M":580},{"t":26.71,"A":-71.9,"M":590},{"t":27.25,"A":-73.1,"M":570},{"t":26.47,"A":-74.2,"M":580},{"t":28.48,"A":-73.1,"M":550},{"t":28.82,"A":-74.0,"M":540},{"t":29.67,"A":-68.3,"M":550},{"t":29.94,"A":-70.8,"M":540},{"t":30.95,"A":-71.3,"M":520},{"t":31.8,"A":-69.7,"M":510},{"t":32.36,"A":-68.3,"M":510},{"t":32.63,"A":-70.6,"M":500},{"t":31.06,"A":-76.5,"M":500},{"t":19.35,"A":-75.1,"M":720},{"t":18.84,"A":-77.0,"M":730},{"t":17.65,"A":-78.4,"M":760},{"t":17.27,"A":-79.7,"M":760},{"t":17.65,"A":-81.9,"M":750},{"t":19.85,"A":-81.5,"M":690},{"t":20.92,"A":-82.8,"M":670},{"t":21.15,"A":-80.8,"M":670},{"t":21.69,"A":-80.7,"M":660},{"t":22.7,"A":-82.1,"M":630},{"t":23.37,"A":-79.1,"M":630},{"t":24.04,"A":-80.9,"M":610},{"t":25.12,"A":-77.8,"M":600},{"t":25.59,"A":-80.7,"M":580},{"t":25.9,"A":-83.0,"M":570},{"t":28.51,"A":-79.2,"M":530},{"t":28.04,"A":-82.4,"M":530},{"t":22.2,"A":-86.6,"M":630},{"t":22.54,"A":-88.0,"M":620},{"t":17.22,"A":-86.9,"M":750},{"t":16.89,"A":-88.1,"M":750},{"t":25.16,"A":-86.9,"M":570},{"t":23.28,"A":-89.9,"M":600},{"t":19.76,"A":-90.3,"M":670},{"t":25.9,"A":-91.0,"M":550},{"t":28.98,"A":-91.2,"M":490},{"t":30.1,"A":-87.3,"M":490},{"t":32.77,"A":-92.3,"M":430},{"t":33.6,"A":-92.8,"M":420},{"t":20.97,"A":-94.6,"M":630},{"t":21.87,"A":-93.9,"M":620},{"t":18.84,"A":-96.1,"M":680},{"t":31.87,"A":-96.7,"M":440},{"t":23.37,"A":-98.9,"M":570},{"t":25.75,"A":-99.8,"M":530},
{"t":34.61,"A":-66.9,"M":480},{"t":40.94,"A":-68.0,"M":400},{"t":45.94,"A":-68.8,"M":350},{"t":47.6,"A":-69.8,"M":330},{"t":43.58,"A":-69.3,"M":370},{"t":42.33,"A":-70.4,"M":380},{"t":42.21,"A":-71.9,"M":380},{"t":41.54,"A":-73.2,"M":380},{"t":43.56,"A":-73.7,"M":360},{"t":44.82,"A":-74.4,"M":340},{"t":36.23,"A":-70.7,"M":450},{"t":38.18,"A":-70.3,"M":430},{"t":38.87,"A":-75.9,"M":400},{"t":41.21,"A":-75.8,"M":380},{"t":42.01,"A":-75.5,"M":370},{"t":41.65,"A":-77.2,"M":370},{"t":37.12,"A":-77.6,"M":420},{"t":35.89,"A":-79.6,"M":430},{"t":36.34,"A":-79.9,"M":420},{"t":37.5,"A":-80.0,"M":410},{"t":41.61,"A":-81.4,"M":350},{"t":42.73,"A":-80.7,"M":340},{"t":42.84,"A":-83.0,"M":340},{"t":42.91,"A":-83.6,"M":330},{"t":42.55,"A":-84.9,"M":330},{"t":41.95,"A":-86.0,"M":340},{"t":41.34,"A":-87.2,"M":340},{"t":42.91,"A":-87.3,"M":320},{"t":44.64,"A":-85.1,"M":310},{"t":46.61,"A":-80.7,"M":300},{"t":47.93,"A":-78.3,"M":300},{"t":48.0,"A":-80.5,"M":290},{"t":48.63,"A":-80.1,"M":290},{"t":49.35,"A":-80.8,"M":280},{"t":47.89,"A":-84.5,"M":280},{"t":47.89,"A":-85.0,"M":280},{"t":47.4,"A":-85.5,"M":280},{"t":49.01,"A":-90.2,"M":260},{"t":38.92,"A":-85.9,"M":370},{"t":40.26,"A":-85.9,"M":360},{"t":37.84,"A":-87.5,"M":380},{"t":37.8,"A":-87.8,"M":380},{"t":38.58,"A":-88.0,"M":370},{"t":38.09,"A":-91.0,"M":370},{"t":43.67,"A":-92.2,"M":300},{"t":33.83,"A":-92.8,"M":420},{"t":33.98,"A":-94.2,"M":410},{"t":35.33,"A":-95.0,"M":390},{"t":39.97,"A":-93.9,"M":340},{"t":40.31,"A":-95.4,"M":330},{"t":37.84,"A":-96.5,"M":360},{"t":45.87,"A":-93.7,"M":280},{"t":46.1,"A":-94.0,"M":270},{"t":46.72,"A":-96.5,"M":260}
]},
"mark": {"type": "point", "shape": "M-1,0H1M0,-1V1", "filled": false, "strokeWidth": 2, "size": 90, "opacity": 1, "clip": true},
"encoding": {
"x": {"field": "t", "type": "quantitative", "scale": {"domain": [0, 50], "nice": false},
"axis": {"values": [0, 10, 20, 30, 40, 50], "grid": false, "domain": false, "tickColor": "black", "tickSize": -8, "tickWidth": 1.2, "labelColor": "black", "labelFontSize": 23, "labelPadding": 14, "labelFont": "Liberation Serif", "title": "tan β", "titleFont": "Liberation Serif", "titleFontSize": 40, "titleFontWeight": "normal", "titleColor": "black", "titlePadding": 0}},
"y": {"field": "A", "type": "quantitative", "scale": {"domain": [-100, 0], "nice": false},
"axis": {"values": [-100, -80, -60, -40, -20, 0], "labelExpr": "datum.value < 0 ? '−' + format(-datum.value, 'd') : '0'", "grid": false, "domain": false, "tickColor": "black", "tickSize": -8, "tickWidth": 1.2, "labelColor": "black", "labelFontSize": 23, "labelPadding": 14, "labelFont": "Liberation Serif", "title": "A [eV/GeV²]", "titleFont": "Liberation Serif", "titleFontSize": 44, "titleFontWeight": "normal", "titleColor": "black", "titlePadding": 20}},
"color": {"field": "M", "type": "quantitative", "scale": {"domain": [200, 1100], "interpolate": "rgb", "range": ["rgba(0,255,255,0.45)", "rgba(205,0,240,0.7)"]},
"legend": {"orient": "none", "legendX": 790, "legendY": 0, "direction": "vertical", "gradientLength": 720, "gradientThickness": 37, "gradientStrokeColor": "black", "gradientStrokeWidth": 1.5, "values": [200, 300, 400, 500, 600, 700, 800, 900, 1000, 1100], "format": "d", "labelOverlap": false, "labelBaseline": "middle", "labelFont": "Liberation Serif", "labelFontSize": 23, "labelColor": "black", "labelOffset": 8, "title": null,
"encode": {"labels": {"update": {"baseline": {"value": "middle"}, "dy": {"value": 0}}}}}}
}
},
{
"data": {"values": [{"t": 0, "A": 0}]},
"mark": {"type": "point", "opacity": 0},
"encoding": {
"x": {"field": "t", "type": "quantitative", "axis": {"orient": "top", "values": [0, 10, 20, 30, 40, 50], "labels": false, "grid": false, "domain": false, "tickColor": "black", "tickSize": -8, "tickWidth": 1.2, "title": null}},
"y": {"field": "A", "type": "quantitative", "axis": {"orient": "right", "values": [-100, -80, -60, -40, -20, 0], "labels": false, "grid": false, "domain": false, "tickColor": "black", "tickSize": -8, "tickWidth": 1.2, "title": null}}
}
},
{
"data": {"values": [{"t": 0, "A": 0}]},
"mark": {"type": "point", "opacity": 0},
"encoding": {
"y": {"field": "A", "type": "quantitative", "axis": {"orient": "right", "ticks": false, "labels": false, "grid": false, "domain": false, "title": "Mᵪ [GeV]", "titleAngle": 270, "titleFont": "Liberation Serif", "titleFontSize": 44, "titleFontWeight": "normal", "titleColor": "black", "titlePadding": 190}}
}
}
]
}
